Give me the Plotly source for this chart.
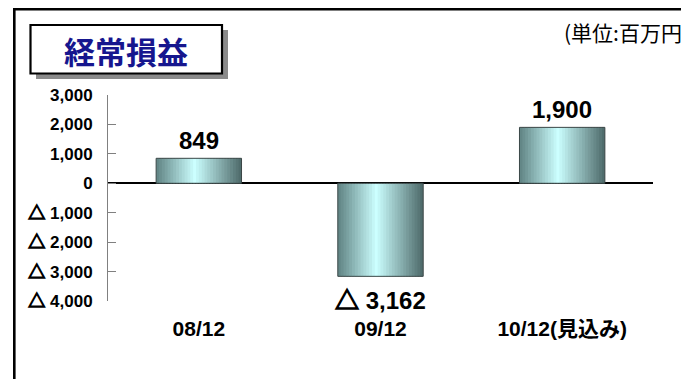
import plotly.graph_objects as go

# 経常損益（単位:百万円）
categories = ["08/12", "09/12", "10/12(見込み)"]
values = [849, -3162, 1900]

tick_values = [3000, 2000, 1000, 0, -1000, -2000, -3000, -4000]
tick_labels = ["3,000", "2,000", "1,000", "0", "△ 1,000", "△ 2,000", "△ 3,000", "△ 4,000"]

title_text = "経常損益"
unit_text = "(単位:百万円)"

W, H = 681, 379
L, R, T, B = 108, 28, 95, 78
PW, PH = W - L - R, H - T - B

TRI = ('<span style="font-family:\'Noto Sans CJK JP\';font-weight:bold;'
       'stroke:#000000;stroke-width:1.3px">△</span>')


def px_x(p):
    return (p - L) / PW


def px_y(p):
    return (H - B - p) / PH


def tri(s):
    # draw the minus marker with a heavy triangle glyph
    return s.replace("△", TRI)


def fmt(v):
    s = f"{abs(v):,}"
    return s if v >= 0 else tri("△ " + s)


def mix(c1, c2, t):
    a = [int(c1[i:i + 2], 16) for i in (1, 3, 5)]
    b = [int(c2[i:i + 2], 16) for i in (1, 3, 5)]
    return "#" + "".join(f"{round(a[k] + (b[k] - a[k]) * t):02x}" for k in range(3))


def grad(t):
    stops = [(0.0, "#5f8282"), (0.45, "#ccffff"), (1.0, "#4c6868")]
    for (p0, c0), (p1, c1) in zip(stops, stops[1:]):
        if t <= p1:
            return mix(c0, c1, (t - p0) / (p1 - p0))
    return stops[-1][1]


fig = go.Figure()

bar_w = 0.47
n_strips = 30
step = bar_w / n_strips
for i in range(n_strips):
    off = -bar_w / 2 + i * step
    w = min(step * 1.6, bar_w / 2 - off)
    fig.add_trace(go.Bar(
        x=categories, y=values, width=w, offset=off,
        marker=dict(color=grad((i + 0.5) / n_strips), line=dict(width=0)),
        hoverinfo="skip", showlegend=False,
    ))

# outline of each bar
fig.add_trace(go.Bar(
    x=categories, y=values, width=bar_w, offset=-bar_w / 2,
    marker=dict(color="rgba(0,0,0,0)", line=dict(color="#3a4646", width=1)),
    showlegend=False,
))

label_font = dict(family="Liberation Sans, Noto Sans CJK JP", size=24, color="#000000", weight="bold")
for c, v in zip(categories, values):
    fig.add_annotation(
        x=c, y=v, text=fmt(v), showarrow=False, font=label_font,
        yshift=18 if v >= 0 else -22, xref="x", yref="y",
    )

shapes = [
    # outer frame
    dict(type="rect", xref="paper", yref="paper",
         x0=px_x(14.3), x1=px_x(760), y0=px_y(9.2), y1=px_y(460),
         line=dict(color="#000000", width=2.6), fillcolor="rgba(0,0,0,0)", layer="below"),
    # title box shadow
    dict(type="rect", xref="paper", yref="paper",
         x0=px_x(36), x1=px_x(228), y0=px_y(30), y1=px_y(79),
         line=dict(width=0), fillcolor="#8a8a8a", layer="below"),
    # title box
    dict(type="rect", xref="paper", yref="paper",
         x0=px_x(30.5), x1=px_x(222), y0=px_y(25), y1=px_y(73.5),
         line=dict(color="#000000", width=2.2), fillcolor="#ffffff", layer="below"),
]

fig.add_annotation(
    x=px_x(126), y=px_y(50), xref="paper", yref="paper", text=title_text, showarrow=False,
    font=dict(family="Noto Sans CJK JP", size=31, color="#16168e", weight="bold"),
    xanchor="center", yanchor="middle",
)
fig.add_annotation(
    x=px_x(562), y=px_y(32), xref="paper", yref="paper", text=unit_text, showarrow=False,
    font=dict(family="Noto Sans CJK JP", size=21, color="#000000"),
    xanchor="left", yanchor="middle",
)

fig.update_layout(
    width=W, height=H,
    margin=dict(l=L, r=R, t=T, b=B, pad=0),
    paper_bgcolor="#ffffff", plot_bgcolor="#ffffff",
    barmode="overlay",
    shapes=shapes,
    showlegend=False,
)
fig.update_xaxes(
    type="category", range=[-0.5, 2.5],
    showline=False, showgrid=False, zeroline=False, ticks="",
    tickfont=dict(family="Liberation Sans, Noto Sans CJK JP", size=21, color="#000000", weight="bold"),
    ticklabelstandoff=13,
)
fig.update_yaxes(
    range=[-4000, 3000],
    tickvals=tick_values, ticktext=[tri(s) for s in tick_labels],
    showline=True, linecolor="#808080", linewidth=1,
    ticks="inside", ticklen=8, tickcolor="#808080", tickwidth=1,
    showgrid=False,
    zeroline=True, zerolinecolor="#000000", zerolinewidth=1.5,
    tickfont=dict(family="Liberation Sans, Noto Sans CJK JP", size=17, color="#000000", weight="bold"),
    ticklabelstandoff=11,
)

fig.write_html("out.html")
